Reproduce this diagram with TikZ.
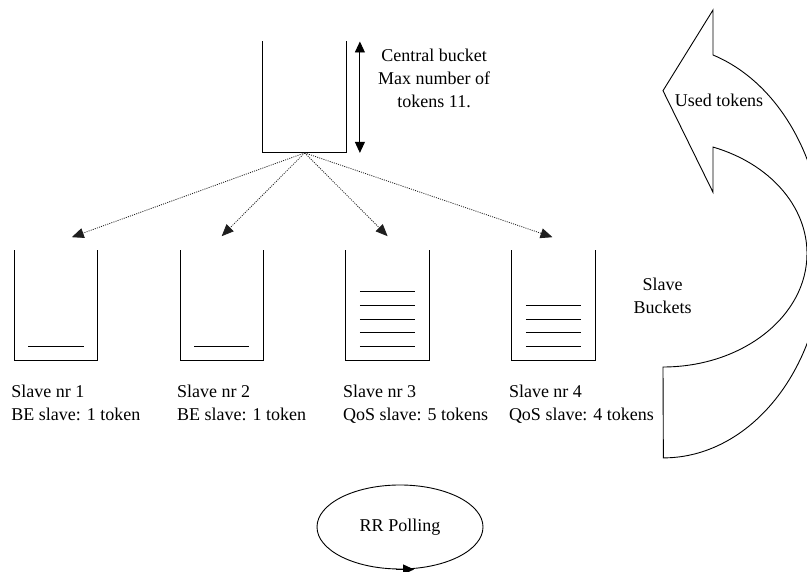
\documentclass[tikz,border=0pt]{standalone}
\usepackage{fontspec}
\setmainfont{Liberation Serif}
\usetikzlibrary{positioning}
\usetikzlibrary{arrows.meta}
\usetikzlibrary{shapes.geometric}
\usetikzlibrary{calc}
\definecolor{figLinea}{RGB}{0,0,0}
\definecolor{figPunto}{RGB}{30,30,30}
\tikzset{
  bucket/.style={
    rectangle, draw=none, minimum width=83pt, minimum height=110pt,
    inner sep=0pt
  },
  bucketline/.style={line width=0.9pt, draw=figLinea},
  tokenline/.style={line width=0.9pt, draw=figLinea},
  txt/.style={
    draw=none, fill=none, inner sep=0pt, font=\fontsize{18}{23}\selectfont
  },
  feed/.style={-{Triangle[length=12pt,width=10pt]}, line width=0.8pt, draw=figPunto,
    dash pattern=on 1pt off 1.2pt},
  sizearrow/.style={{Triangle[length=11pt,width=10pt]}-{Triangle[length=11pt,width=10pt]},
    line width=0.9pt, draw=figLinea},
  poll/.style={
    ellipse, draw=figLinea, line width=0.9pt, minimum width=166pt, minimum height=84pt,
    inner sep=0pt, font=\fontsize{18}{23}\selectfont
  },
  usedarrow/.style={line width=0.9pt, draw=figLinea}
}

\begin{document}
\begin{tikzpicture}[x=1pt, y=1pt]
  \useasboundingbox (0,0) rectangle (807,572);

  % central bucket
  \node[bucket, minimum width=84pt, minimum height=111pt] (cb) at (304.7,474.8) {};
  \node[txt, align=center, below right=7pt and 31pt of cb.north east] (cbtxt) {Central bucket\\Max number of\\tokens 11.};

  % slave buckets
  \node[bucket] (s1) at (55.8,266.6) {};
  \node[bucket, right=82.5pt of s1] (s2) {};
  \node[bucket, right=82.5pt of s2] (s3) {};
  \node[bucket, right=82.5pt of s3] (s4) {};

  \foreach \b in {cb,s1,s2,s3,s4}
    \draw[bucketline] (\b.north west) -- (\b.south west) -- (\b.south east) -- (\b.north east);

  \foreach \b/\n in {s1/1,s2/1,s3/5,s4/4}
    \foreach \i in {1,...,\n}
      \draw[tokenline] ($(\b.south west)+(14,{14+13.75*(\i-1)})$) -- ($(\b.south east)+(-14,{14+13.75*(\i-1)})$);

  \node[txt, align=left, below right=24pt and -3pt of s1.south west] (s1txt) {Slave nr 1\\BE slave: 1 token};
  \node[txt, align=left, below right=24pt and -3pt of s2.south west] (s2txt) {Slave nr 2\\BE slave: 1 token};
  \node[txt, align=left, below right=24pt and -3pt of s3.south west] (s3txt) {Slave nr 3\\QoS slave: 5 tokens};
  \node[txt, align=left, below right=24pt and -3pt of s4.south west] (s4txt) {Slave nr 4\\QoS slave: 4 tokens};

  % tokens handed out
  \draw[feed] (cb.south) -- ([xshift=16pt,yshift=13pt]s1.north);
  \draw[feed] (cb.south) -- ([yshift=14pt]s2.north);
  \draw[feed] (cb.south) -- ([yshift=14pt]s3.north);
  \draw[feed] (cb.south) -- ([xshift=-1pt,yshift=13pt]s4.north);

  \draw[sizearrow] ([xshift=13pt]cb.north east) -- ([xshift=13pt]cb.south east);

  % used tokens go back
  \begin{scope}
    \clip (0,0) rectangle (807,572);
    \draw[usedarrow] (663,205) arc[start angle=-90, end angle=69.7, x radius=144pt, y radius=113.5pt]
      -- (713,379.7) -- (663,481.3) -- (713,562) -- (713,517)
      arc[start angle=72, end angle=-90, x radius=160.6pt, y radius=206.5pt] -- cycle;
  \end{scope}
  \node[txt] (used) at (719,472) {Used tokens};
  \node[txt, align=center] (slvtxt) at (662.7,276) {Slave\\Buckets};

  % round robin
  \node[poll] (rr) at (400,45) {RR Polling};
  \draw[-{Triangle[length=11pt,width=10pt]}, line width=0.9pt] ([xshift=-4pt]rr.south) -- ([xshift=14pt]rr.south);
\end{tikzpicture}
\end{document}
